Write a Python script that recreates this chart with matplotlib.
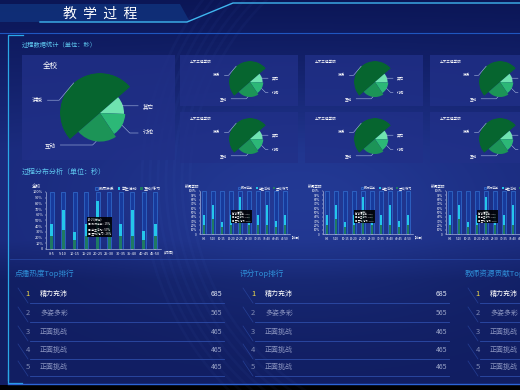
import numpy as np
import matplotlib
matplotlib.use('Agg')
import matplotlib.pyplot as plt
from matplotlib.colors import to_rgb
from matplotlib.patches import Rectangle, Polygon, Circle

plt.rcParams['font.family'] = ['Noto Sans CJK SC', 'DejaVu Sans']

W, H = 520, 390

# ---- data ----
pie_labels = ['讲授', '其它', '讨论', '互动']
pie_values = [50, 12, 15, 23]
pie_colors = ['#06652f', '#6fe3b0', '#2cb877', '#1c9457']
school_title = '全校'
college_title = '土木工程学院'
bar_college = '新闻学院'

bin_labels = ['0-5', '5-10', '10-15', '15-20', '20-25', '25-30',
              '30-35', '35-40', '40-45', '45-50']
total_pct = [100] * 10
student_pct = [44, 68, 29, 44, 85, 44, 44, 68, 31, 44]
practice_pct = [22, 34, 16, 22, 26, 22, 22, 22, 16, 22]
series_names = ['教师讲授', '学生活动', '互动/练习']
tip_text = '20-25(分钟)\n● 教师讲授 : 15%\n● 学生活动 : 59%\n● 互动/练习 : 26%'

rank_titles = ['点播热度Top排行', '评分Top排行', '教师资源贡献Top排行']
rank_names = ['精力充沛', '多姿多彩', '正面挑战', '正面挑战', '正面挑战']
rank_values = [685, 565, 465, 465, 465]

fig = plt.figure(figsize=(5.2, 3.9), dpi=100)
fig.patch.set_facecolor('#0b1552')


def px_axes(x, y, w, h, **kw):
    return fig.add_axes([x / W, 1 - (y + h) / H, w / W, h / H], **kw)


# ---- background ----
bg = px_axes(0, 0, W, H)
bg.set_xlim(0, W); bg.set_ylim(H, 0); bg.axis('off')
yy, xx = np.mgrid[0:H, 0:W]
top, mid, low = map(np.array, map(to_rgb, ['#0b1656', '#1a2a7c', '#111e62']))
t = np.clip(yy / 150.0, 0, 1)[..., None]
img = top * (1 - t) + mid * t
t2 = np.clip((yy - 240) / 40.0, 0, 1)[..., None]
img = img * (1 - t2) + low * t2
glow = (np.exp(-(((xx - 300) / 200.0) ** 2 + ((yy - 200) / 100.0) ** 2)) * 0.4)[..., None]
img = img * (1 - glow) + np.array(to_rgb('#3050b8')) * glow
img[385:] = 0
bg.imshow(img, extent=(0, W, H, 0), aspect='auto', zorder=0)
for r in range(250, 300, 8):
    bg.add_patch(Circle((440, 180), r, fill=False, ec='#4f74d8', lw=2, alpha=0.05, zorder=1))

# header
bg.add_patch(Polygon([(0, 4), (180, 4), (190, 22), (0, 22)], closed=True,
                     fc='#12408e', ec='none', alpha=0.55, zorder=1))
bg.plot([40, 187, 233, 520], [22, 22, 3, 3], color='#3fb6f0', lw=1.0, zorder=2)
bg.plot([0, 520], [33, 33], color='#1f56c0', lw=0.8, zorder=2)
bg.text(100, 14, '教  学  过  程', color='white', fontsize=10, ha='center', va='center', zorder=3)
bg.plot([23, 8, 8], [35, 35, 380], color='#2aa8e8', lw=0.9, zorder=2)
bg.plot([8, 8, 22], [370, 383, 383], color='#2aa8e8', lw=0.9, zorder=2)
bg.plot([8, 520], [383.5, 383.5], color='#2c64d8', lw=1.0, zorder=2)
bg.plot([10, 520], [259, 259], color='#2a4aa8', lw=0.6, alpha=0.8, zorder=2)

bg.text(22, 45, '过程数据统计（单位：秒）', color='#5fc8f0', fontsize=4.5, va='center', zorder=3)
bg.text(22, 172, '过程分布分析（单位：秒）', color='#5fc8f0', fontsize=5, va='center', zorder=3)

# ---- pies ----
label_pos = [(-0.21, 0.66, 'right', 50), (1.03, 0.59, 'left', 60),
             (1.03, 0.25, 'left', -45), (-0.05, 0.10, 'right', 45)]


def rose(ax, fs):
    v = np.array(pie_values, float)
    widths = np.deg2rad(v / v.sum() * 360)
    starts = np.concatenate([[0], np.cumsum(widths)[:-1]])
    radii = 0.6 + (v - v.min()) / (v.max() - v.min()) * 0.4
    ax.set_theta_direction(-1)
    ax.set_theta_offset(np.deg2rad(221))
    ax.bar(starts, radii, width=widths, align='edge', color=pie_colors, edgecolor='none')
    ax.set_ylim(0, 1)
    ax.axis('off')
    for i, lab in enumerate(pie_labels):
        fx, fy, ha, ab = label_pos[i]
        ax.annotate(lab, xy=(starts[i] + widths[i] / 2, radii[i]), xytext=(fx, fy),
                    textcoords='axes fraction', ha=ha, va='center', fontsize=fs,
                    color='white', annotation_clip=False,
                    arrowprops=dict(arrowstyle='-', color='#a8b8e0', lw=0.4,
                                    shrinkA=1, shrinkB=0,
                                    connectionstyle=f'angle,angleA=0,angleB={ab},rad=0'))


bg.add_patch(Rectangle((22, 55), 153, 105, fc='#213088', ec='none', alpha=0.8, zorder=1))
bg.text(50, 66, school_title, color='white', fontsize=5.5, ha='center', va='center', zorder=3)
rose(px_axes(60, 73, 80, 80, projection='polar'), 4)

for col in range(3):
    for row in range(2):
        px = 180 + col * 125
        py = 55 + row * 57
        bg.add_patch(Rectangle((px, py), 118, 51, fc='#213088', ec='none', alpha=0.8, zorder=1))
        bg.text(px + 10, py + 7, college_title, color='white', fontsize=2.6, va='center', zorder=3)
        rose(px_axes(px + 49, py + 6, 42, 42, projection='polar'), 2.6)


# ---- bars ----
def bars(ax, fs, title, tip_fs):
    x = np.arange(len(bin_labels))
    ax.set_facecolor('none')
    ax.bar(x, total_pct, width=0.34, color='#173a9c', edgecolor='#3a7ee0', linewidth=0.4,
           label=series_names[0])
    ax.bar(x, student_pct, width=0.22, color='#25c6ea', label=series_names[1])
    ax.bar(x, practice_pct, width=0.22, color='#1f7a63', label=series_names[2])
    ax.set_xlim(-0.5, 9.5); ax.set_ylim(0, 100)
    ax.set_xticks(x, bin_labels)
    ax.set_yticks(range(0, 101, 10), ['0'] + [f'{v}%' for v in range(10, 101, 10)])
    ax.tick_params(colors='white', labelsize=fs, length=1, width=0.3, pad=1)
    for s in ['top', 'right']:
        ax.spines[s].set_visible(False)
    for s in ['left', 'bottom']:
        ax.spines[s].set_color('#c8d4f0'); ax.spines[s].set_linewidth(0.4)
    ax.text(1.02, -0.02, '(时间)', transform=ax.transAxes, ha='left', va='top',
            fontsize=fs, color='white')
    ax.text(-0.08, 1.1, title, transform=ax.transAxes, ha='center', va='center',
            fontsize=fs * 1.2, color='white')
    ax.legend(loc='lower right', bbox_to_anchor=(1.0, 1.02), ncol=3, fontsize=fs,
              frameon=False, handlelength=0.7, handleheight=0.8, columnspacing=0.8,
              handletextpad=0.3, labelcolor='white', borderaxespad=0, borderpad=0)
    ax.text(3.15, 55, tip_text, fontsize=tip_fs, color='white', va='top', ha='left',
            linespacing=1.2,
            bbox=dict(facecolor='black', edgecolor='none', pad=0.8, alpha=0.9))


bars(px_axes(46, 192, 115, 57), 2.8, school_title, 2.0)
for i in range(3):
    bars(px_axes(199.5 + i * 123, 191, 90, 43), 2.2, bar_college, 1.6)

# ---- rankings ----
rows_y = [294, 313, 332, 350, 367]
for c in range(3):
    ox = c * 225
    bg.text(15 + ox, 274, rank_titles[c], color='#2f8fd8', fontsize=5.5, va='center', zorder=3)
    for i, (nm, val) in enumerate(zip(rank_names, rank_values)):
        y = rows_y[i]
        first = i == 0
        bg.text(28 + ox, y, str(i + 1), color='#f2de4a' if first else '#7f8ab4',
                fontsize=5.5, ha='center', va='center', zorder=3)
        bg.text(40 + ox, y, nm, color='white' if first else '#8a94c0',
                fontsize=5, ha='left', va='center', zorder=3)
        bg.text(222 + ox, y, str(val), color='#e4e9f6' if first else '#9aa4c8',
                fontsize=5, ha='right', va='center', zorder=3)
        bg.plot([30 + ox, 224 + ox], [y + 9, y + 9], color='#2d4ca8', lw=0.6, zorder=2)
        bg.plot([18 + ox, 28 + ox], [y - 6, y + 9], color='#2d4ca8', lw=0.5, alpha=0.7, zorder=2)

fig.savefig('out.png', dpi=100, facecolor=fig.get_facecolor())
